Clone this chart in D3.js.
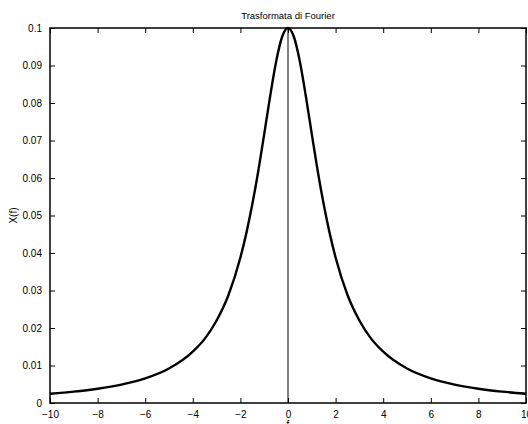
<!DOCTYPE html>
<html><head><meta charset="utf-8">
<script src="https://cdn.jsdelivr.net/npm/d3@7"></script>
<style>body{margin:0;background:#fff}svg{display:block}text{font-family:"Liberation Sans",Arial,sans-serif;fill:#000}</style>
</head><body><svg id="c" width="528" height="424"></svg>
<script>
const freq = [-10,-9,-8,-7,-6,-5,-4,-3.5,-3,-2.5,-2,-1.75,-1.5,-1.25,-1,-0.75,-0.5,-0.25,0,0.25,0.5,0.75,1,1.25,1.5,1.75,2,2.5,3,3.5,4,5,6,7,8,9,10];
const mag = [0.00247,0.00303,0.00381,0.00492,0.00657,0.0092,0.0137,0.0171,0.0220,0.0288,0.0388,0.0453,0.0530,0.0618,0.0717,0.0818,0.0910,0.0976,0.1,0.0976,0.0910,0.0818,0.0717,0.0618,0.0530,0.0453,0.0388,0.0288,0.0220,0.0171,0.0137,0.0092,0.00657,0.00492,0.00381,0.00303,0.00247];
const xTicks = [-10,-8,-6,-4,-2,0,2,4,6,8,10];
const yTicks = [0,0.01,0.02,0.03,0.04,0.05,0.06,0.07,0.08,0.09,0.1];
const title = "Trasformata di Fourier", xLabel = "f", yLabel = "X(f)";

const svg = d3.select("#c");
const L=50,R=526,T=28,B=403;
const x = d3.scaleLinear().domain([-10,10]).range([L,R]);
const y = d3.scaleLinear().domain([0,0.1]).range([B,T]);
const fmtY = d => d===0?"0":String(+d.toFixed(2));
const fmtX = d => d<0?"\u2212"+Math.abs(d):String(d);

// stem at f=0
svg.append("line").attr("x1",x(0)).attr("x2",x(0)).attr("y1",y(0)).attr("y2",y(0.1)).attr("stroke","#000").attr("stroke-width",1);

const line = d3.line().x((d,i)=>x(freq[i])).y(d=>y(d)).curve(d3.curveMonotoneX);
svg.append("path").attr("d",line(mag)).attr("fill","none").attr("stroke","#000").attr("stroke-width",2.4).attr("stroke-linejoin","round");

// axes
const ax = (g)=>{g.selectAll(".domain").remove(); g.selectAll("text").style("font-size","10px");};
svg.append("g").attr("transform",`translate(0,${B})`).call(d3.axisBottom(x).tickValues(xTicks).tickFormat(fmtX).tickSizeInner(-5).tickSizeOuter(0).tickPadding(8)).call(ax);
svg.append("g").attr("transform",`translate(0,${T})`).call(d3.axisTop(x).tickValues(xTicks).tickFormat("").tickSizeInner(-5).tickSizeOuter(0)).call(ax);
svg.append("g").attr("transform",`translate(${L},0)`).call(d3.axisLeft(y).tickValues(yTicks).tickFormat(fmtY).tickSizeInner(-5).tickSizeOuter(0).tickPadding(8)).call(ax);
svg.append("g").attr("transform",`translate(${R},0)`).call(d3.axisRight(y).tickValues(yTicks).tickFormat("").tickSizeInner(-5).tickSizeOuter(0)).call(ax);
svg.selectAll(".tick line").attr("stroke-width",1);
svg.append("rect").attr("x",L).attr("y",T).attr("width",R-L).attr("height",B-T).attr("fill","none").attr("stroke","#000").attr("stroke-width",1.5);

svg.append("text").attr("x",(L+R)/2).attr("y",19).attr("text-anchor","middle").style("font-size","9.5px").text(title);
svg.append("text").attr("x",(L+R)/2).attr("y",428).attr("text-anchor","middle").style("font-size","10px").text(xLabel);
svg.append("text").attr("transform",`translate(17,${(T+B)/2}) rotate(-90)`).attr("text-anchor","middle").style("font-size","10px").text(yLabel);
</script></body></html>
